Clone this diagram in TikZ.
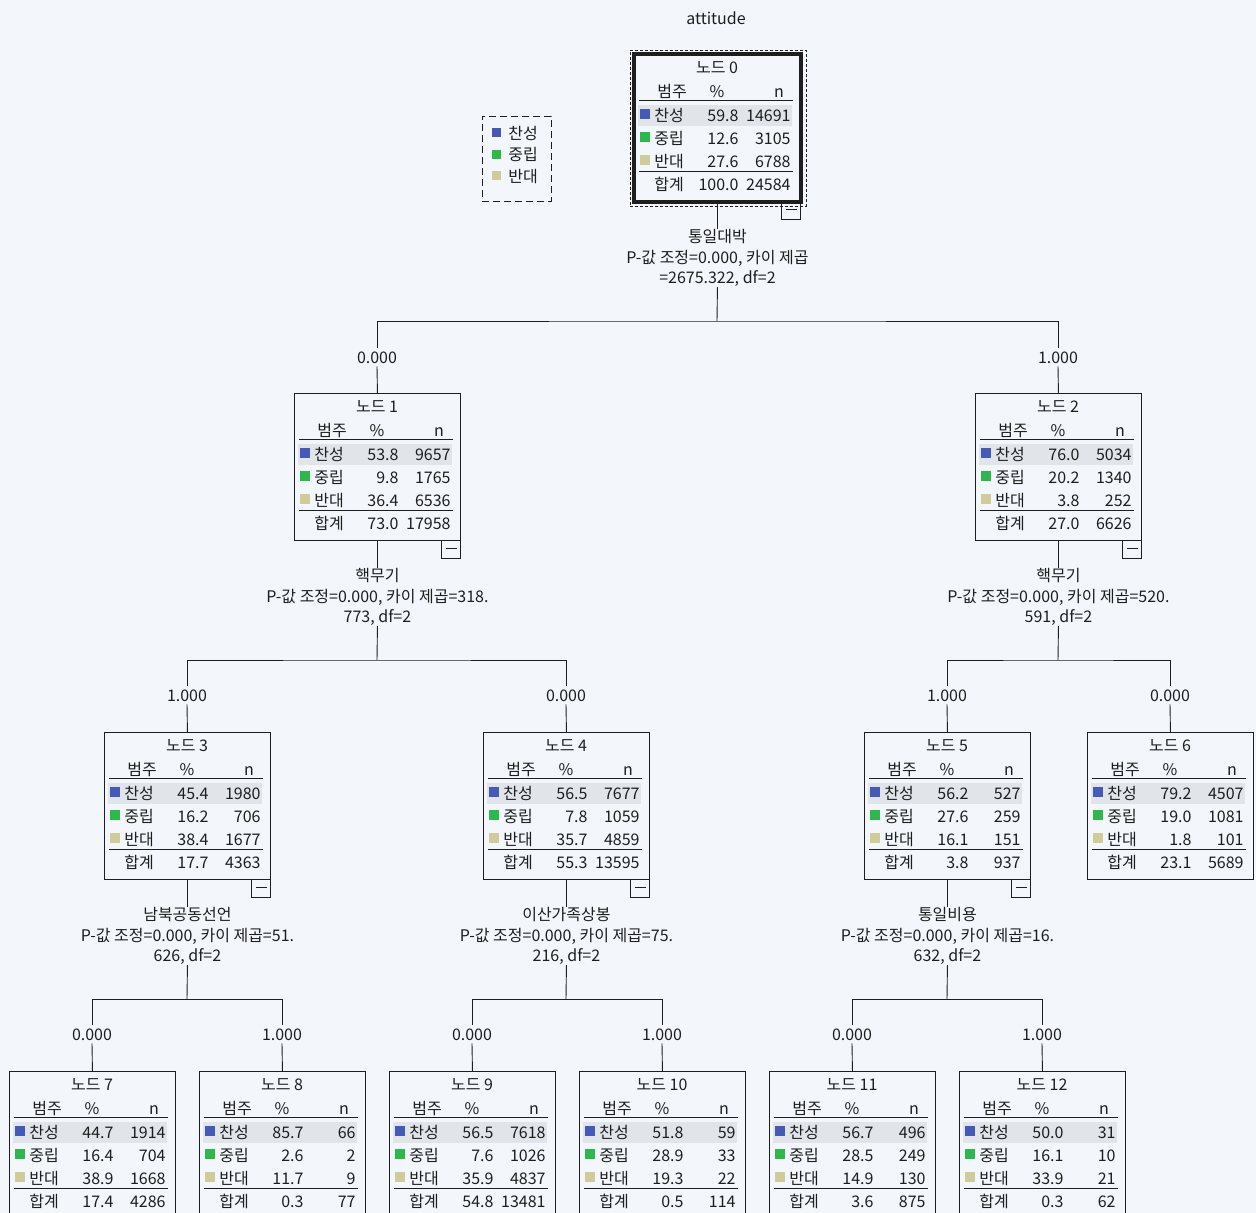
\documentclass[tikz,border=0pt]{standalone}
\usepackage{fontspec}
\setmainfont{Noto Sans CJK KR}
\definecolor{tree-bg}{HTML}{F3F7FB}
\definecolor{row-shade}{HTML}{E1E5EA}
\definecolor{cat-blue}{HTML}{4659B9}
\definecolor{cat-green}{HTML}{2DB84D}
\definecolor{cat-tan}{HTML}{CFCB9B}
\definecolor{ink}{HTML}{1E1E1E}

% one tree node: name, left, top, number, rows (pct/n), total pct, total n
\newcommand{\treebox}[7]{%
  \node[boxnode] (#1) at (#2,#3) {};
  \fill[row-shade] ({#2+4},{#3+51}) rectangle ({#2+158},{#3+72});
  \node[txt] at ({#2+83},{#3+13}) {노드 #4};
  \node[txt] at ({#2+38},{#3+37}) {범주};
  \node[txt] at ({#2+83},{#3+37}) {\%};
  \node[txt] at ({#2+145},{#3+37}) {n};
  \draw[rule] ({#2+5},{#3+46}) -- ({#2+159},{#3+46});
  \foreach \lab/\col [count=\i from 0] in {찬성/cat-blue,중립/cat-green,반대/cat-tan}{
    \fill[\col] ({#2+6},{#3+55+23*\i}) rectangle ({#2+16},{#3+65+23*\i});
    \node[txt, anchor=west] at ({#2+20},{#3+61+23*\i}) {\lab};
  }
  \foreach \pct/\cnt [count=\i from 0] in {#5}{
    \node[txt, anchor=east] at ({#2+105},{#3+61+23*\i}) {\pct};
    \node[txt, anchor=east] at ({#2+157},{#3+61+23*\i}) {\cnt};
  }
  \draw[rule] ({#2+5},{#3+117}) -- ({#2+159},{#3+117});
  \node[txt, anchor=west] at ({#2+20},{#3+130}) {합계};
  \node[txt, anchor=east] at ({#2+105},{#3+130}) {#6};
  \node[txt, anchor=east] at ({#2+157},{#3+130}) {#7};
}
% collapse sign under a node
\newcommand{\minusbox}[1]{%
  \draw[rule] ([xshift=-19pt]#1.south east) rectangle ([yshift=-18pt]#1.south east);
  \draw[rule] ([xshift=-15pt,yshift=-8pt]#1.south east) -- ([xshift=-4pt,yshift=-8pt]#1.south east);
}

\begin{document}
\begin{tikzpicture}[x=1pt, y=-1pt, line width=0.9pt, draw=ink, text=ink,
    every node/.style={font=\fontsize{16}{20.5}\selectfont},
    txt/.style={inner sep=0pt, text height=14pt, text depth=2pt},
    rule/.style={draw=ink, line width=0.9pt},
    boxnode/.style={draw=ink, anchor=north west, inner sep=0pt,
      minimum width=166pt, minimum height=147pt},
    splitlbl/.style={anchor=north, align=center, inner sep=0pt},
    edgelbl/.style={inner sep=2pt, text height=13pt, text depth=1pt}]
  \fill[tree-bg] (0,0) rectangle (1256,1213);
  \clip (0,0) rectangle (1256,1213);

  \node[txt] (title) at (716,18) {attitude};

  % legend
  \node[draw=ink, dash pattern=on 7pt off 4pt, anchor=north west, minimum width=69pt, minimum height=85pt] (legend) at (482,116) {};
  \foreach \lab/\col [count=\i from 0] in {찬성/cat-blue,중립/cat-green,반대/cat-tan}{
    \fill[\col] (492,{128+21.5*\i}) rectangle (501,{137+21.5*\i});
    \node[txt, anchor=west] at (508,{133+21.5*\i}) {\lab};
  }

  % level 0
  \node[draw=ink, dash pattern=on 3pt off 2pt, anchor=north west, minimum width=176pt, minimum height=156pt] (sel) at (630,50) {};
  \treebox{n0}{634}{54}{0}{59.8/14691,12.6/3105,27.6/6788}{100.0}{24584}
  \draw[line width=3.2pt] (n0.north west) rectangle (n0.south east);
  \minusbox{n0}

  % level 1
  \treebox{n1}{294}{393}{1}{53.8/9657,9.8/1765,36.4/6536}{73.0}{17958}
  \treebox{n2}{975}{393}{2}{76.0/5034,20.2/1340,3.8/252}{27.0}{6626}
  \minusbox{n1}
  \minusbox{n2}

  % level 2
  \treebox{n3}{104}{732}{3}{45.4/1980,16.2/706,38.4/1677}{17.7}{4363}
  \treebox{n4}{483}{732}{4}{56.5/7677,7.8/1059,35.7/4859}{55.3}{13595}
  \treebox{n5}{864}{732}{5}{56.2/527,27.6/259,16.1/151}{3.8}{937}
  \treebox{n6}{1087}{732}{6}{79.2/4507,19.0/1081,1.8/101}{23.1}{5689}
  \minusbox{n3}
  \minusbox{n4}
  \minusbox{n5}

  % level 3
  \treebox{n7}{9}{1071}{7}{44.7/1914,16.4/704,38.9/1668}{17.4}{4286}
  \treebox{n8}{199}{1071}{8}{85.7/66,2.6/2,11.7/9}{0.3}{77}
  \treebox{n9}{389}{1071}{9}{56.5/7618,7.6/1026,35.9/4837}{54.8}{13481}
  \treebox{n10}{579}{1071}{10}{51.8/59,28.9/33,19.3/22}{0.5}{114}
  \treebox{n11}{769}{1071}{11}{56.7/496,28.5/249,14.9/130}{3.6}{875}
  \treebox{n12}{959}{1071}{12}{50.0/31,16.1/10,33.9/21}{0.3}{62}

  % split labels
  \node[splitlbl] (s0) at ([yshift=-27pt]n0.south) {통일대박\\P-값 조정=0.000, 카이 제곱\\=2675.322, df=2};
  \node[splitlbl] (s1) at ([yshift=-27pt]n1.south) {핵무기\\P-값 조정=0.000, 카이 제곱=318.\\773, df=2};
  \node[splitlbl] (s2) at ([yshift=-27pt]n2.south) {핵무기\\P-값 조정=0.000, 카이 제곱=520.\\591, df=2};
  \node[splitlbl] (s3) at ([yshift=-27pt]n3.south) {남북공동선언\\P-값 조정=0.000, 카이 제곱=51.\\626, df=2};
  \node[splitlbl] (s4) at ([yshift=-27pt]n4.south) {이산가족상봉\\P-값 조정=0.000, 카이 제곱=75.\\216, df=2};
  \node[splitlbl] (s5) at ([yshift=-27pt]n5.south) {통일비용\\P-값 조정=0.000, 카이 제곱=16.\\632, df=2};

  % branch points
  \coordinate (b0) at (717,321);
  \coordinate (b1) at (377,660);
  \coordinate (b2) at (1058,660);
  \coordinate (b3) at (187,999);
  \coordinate (b4) at (566,999);
  \coordinate (b5) at (947,999);

  % edge labels
  \node[edgelbl] (e1) at (377,357) {0.000};
  \node[edgelbl] (e2) at (1058,357) {1.000};
  \node[edgelbl] (e3) at (187,695) {1.000};
  \node[edgelbl] (e4) at (566,695) {0.000};
  \node[edgelbl] (e5) at (947,695) {1.000};
  \node[edgelbl] (e6) at (1170,695) {0.000};
  \node[edgelbl] (e7) at (92,1034) {0.000};
  \node[edgelbl] (e8) at (282,1034) {1.000};
  \node[edgelbl] (e9) at (472,1034) {0.000};
  \node[edgelbl] (e10) at (662,1034) {1.000};
  \node[edgelbl] (e11) at (852,1034) {0.000};
  \node[edgelbl] (e12) at (1042,1034) {1.000};

  % connectors
  \foreach \p/\a/\b in {0/1/2, 1/3/4, 2/5/6, 3/7/8, 4/9/10, 5/11/12}{
    \draw (n\p.south) -- (s\p.north);
    \draw (s\p.south) -- (b\p);
    \draw (e\a.north) |- (b\p) -| (e\b.north);
    \draw (e\a.south) -- (n\a.north);
    \draw (e\b.south) -- (n\b.north);
  }
\end{tikzpicture}
\end{document}
